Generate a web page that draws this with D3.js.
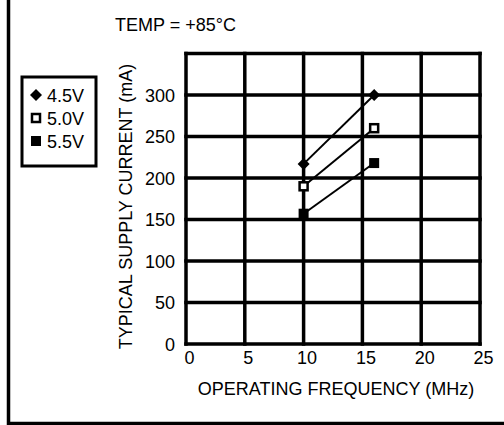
<!DOCTYPE html>
<html>
<head>
<meta charset="utf-8">
<script src="https://cdn.jsdelivr.net/npm/d3@7/dist/d3.min.js"></script>
<style>
  html, body { margin: 0; padding: 0; background: #fff; overflow: hidden; }
  svg { display: block; }
  text { font-family: "Liberation Sans", Arial, sans-serif; font-size: 18px; fill: #000; }
</style>
</head>
<body>
<div id="chart"></div>
<script>
// data
const freq     = [10, 16]
const cur45    = [217, 300]
const cur50    = [190, 260]
const cur55    = [157, 218]
const labels   = ['4.5V', '5.0V', '5.5V']
const markers  = ['diamond', 'open', 'filled']
const xTicks   = [0, 5, 10, 15, 20, 25]
const yTicks   = [0, 50, 100, 150, 200, 250, 300]
const yGrid    = [0, 50, 100, 150, 200, 250, 300, 350]

const W = 504, H = 425
const PLOT = {left: 186, right: 480, top: 53.5, bottom: 344}

const svg = d3.select('#chart').append('svg')
    .attr('width', W)
    .attr('height', H)

// outer frame: only left and bottom edges show inside the picture
svg.append('path')
    .attr('d', `M8.5,0V423.5H${W}`)
    .attr('fill', 'none')
    .attr('stroke', '#000')
    .attr('stroke-width', 3.5)

const x = d3.scaleLinear().domain([0, 25]).range([PLOT.left, PLOT.right])
const y = d3.scaleLinear().domain([0, 350]).range([PLOT.bottom, PLOT.top])

// grid
const grid = svg.append('g')
grid.selectAll('.vg').data(xTicks).join('line')
    .attr('x1', d => x(d)).attr('x2', d => x(d))
    .attr('y1', y(350) - 1.75).attr('y2', y(0) + 1.75)
    .attr('stroke', '#000').attr('stroke-width', 3.5)
grid.selectAll('.hg').data(yGrid).join('line')
    .attr('y1', d => y(d)).attr('y2', d => y(d))
    .attr('x1', x(0) - 1.75).attr('x2', x(25) + 1.75)
    .attr('stroke', '#000').attr('stroke-width', 3.5)

// axes (labels only, the grid does the lines)
svg.append('g')
    .attr('transform', `translate(0, ${PLOT.bottom})`)
    .call(d3.axisBottom(x).tickValues(xTicks).tickSize(0).tickPadding(0))
    .call(g => g.select('.domain').remove())
    .selectAll('text')
        .attr('dx', 3)
        .attr('y', 20)
        .attr('dy', 0)
        .style('font-size', '18px')
        .style('font-family', '"Liberation Sans", Arial, sans-serif')

svg.append('g')
    .attr('transform', `translate(${PLOT.left}, 0)`)
    .call(d3.axisLeft(y).tickValues(yTicks).tickSize(0).tickPadding(11))
    .call(g => g.select('.domain').remove())
    .selectAll('text')
        .attr('dy', '0.35em')
        .style('font-size', '18px')
        .style('font-family', '"Liberation Sans", Arial, sans-serif')

// titles
svg.append('text')
    .attr('x', 115).attr('y', 31)
    .text('TEMP = +85°C')

svg.append('text')
    .attr('text-anchor', 'middle')
    .attr('x', 336).attr('y', 395)
    .text('OPERATING FREQUENCY (MHz)')

svg.append('text')
    .attr('text-anchor', 'middle')
    .attr('transform', 'translate(131.5, 206.5) rotate(-90)')
    .text('TYPICAL SUPPLY CURRENT (mA)')

// series
const series = [cur45, cur50, cur55].map((vals, i) => ({
    key: labels[i],
    marker: markers[i],
    pts: vals.map((v, j) => ({f: freq[j], v: v}))
}))

const line = d3.line().x(d => x(d.f)).y(d => y(d.v))

svg.append('g').selectAll('path').data(series).join('path')
    .attr('d', d => line(d.pts))
    .attr('fill', 'none')
    .attr('stroke', '#000')
    .attr('stroke-width', 2)

function drawMarker(sel, kind, cx, cy) {
    if (kind === 'diamond') {
        sel.append('path')
            .attr('d', `M${cx},${cy - 6}L${cx + 6},${cy}L${cx},${cy + 6}L${cx - 6},${cy}Z`)
            .attr('fill', '#000')
    } else if (kind === 'open') {
        sel.append('rect')
            .attr('x', cx - 4).attr('y', cy - 4)
            .attr('width', 8).attr('height', 8)
            .attr('fill', '#fff').attr('stroke', '#000').attr('stroke-width', 2.5)
    } else {
        sel.append('rect')
            .attr('x', cx - 5).attr('y', cy - 5)
            .attr('width', 10).attr('height', 10)
            .attr('fill', '#000')
    }
}

const pts = svg.append('g')
series.forEach(s => {
    s.pts.forEach(p => drawMarker(pts, s.marker, x(p.f), y(p.v)))
})

// legend
const legend = svg.append('g')
legend.append('rect')
    .attr('x', 22).attr('y', 77)
    .attr('width', 74).attr('height', 89)
    .attr('fill', 'none')
    .attr('stroke', '#000')
    .attr('stroke-width', 3)

series.forEach((s, i) => {
    const cy = 95 + i * 23
    drawMarker(legend, s.marker, 36, cy)
    legend.append('text')
        .attr('x', 47).attr('y', cy + 6.5)
        .text(s.key)
})
</script>
</body>
</html>
